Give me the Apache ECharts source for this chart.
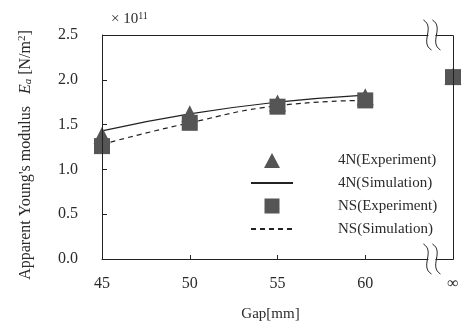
<!DOCTYPE html>
<html>
<head>
<meta charset="utf-8">
<script src="https://cdn.jsdelivr.net/npm/echarts@6/dist/echarts.min.js"></script>
<style>
  html, body { margin: 0; padding: 0; background: #fff; }
  #main { width: 462px; height: 336px; }
</style>
</head>
<body>
<div id="main"></div>
<script>
// gap in mm, 65 stands for the "∞" position
var gaps = [45, 50, 55, 60, 65];
var simGaps = [45, 50, 55, 60];

var exp4N = [1.38, 1.62, 1.74, 1.81, 2.04];
var sim4N = [1.43, 1.62, 1.75, 1.83];
var expNS = [1.26, 1.52, 1.70, 1.77, 2.03];
var simNS = [1.28, 1.52, 1.71, 1.77];

var xTicks = [45, 50, 55, 60];
var infLabel = '∞';
var breakAt = 63.8;

function pairs(xs, ys) {
    return ys.map(function (v, i) { return [xs[i], v]; });
}

var font = 'Liberation Serif';
var ink = '#2a2a2a';
var frameColor = '#222222';
var markColor = '#555555';

// legend icons: a zero-area stroke fixes the icon box, the shape sits in the middle
var triIcon = 'path://M0,0L42,16M13,16L21,1L29,16Z';
var rectIcon = 'path://M0,0L42,16M13.5,0.5L28.5,0.5L28.5,15.5L13.5,15.5Z';

var myChart = echarts.init(document.getElementById('main'));

var option = {
    backgroundColor: '#fff',
    animation: false,
    textStyle: { fontFamily: font, color: ink },
    grid: { left: 102, right: 9, top: 35, bottom: 77 },
    legend: {
        orient: 'vertical',
        left: 245,
        top: 147,
        itemWidth: 42,
        itemHeight: 16,
        itemGap: 7,
        textStyle: { fontFamily: font, fontSize: 15, color: ink, padding: [0, 0, 0, 40], lineHeight: 16 },
        data: [
            { name: '4N(Experiment)', icon: triIcon },
            { name: '4N(Simulation)', itemStyle: { opacity: 0 } },
            { name: 'NS(Experiment)', icon: rectIcon },
            { name: 'NS(Simulation)', itemStyle: { opacity: 0 } }
        ]
    },
    xAxis: {
        type: 'value',
        min: 45,
        max: 65,
        interval: 5,
        name: 'Gap[mm]',
        nameLocation: 'middle',
        nameGap: 48,
        nameTextStyle: { fontFamily: font, fontSize: 15, color: ink, padding: [0, 14, 0, 0] },
        axisLine: { lineStyle: { color: frameColor, width: 1 } },
        axisTick: { inside: true, length: 4, lineStyle: { color: frameColor } },
        splitLine: { show: false },
        axisLabel: {
            margin: 17,
            fontFamily: font,
            fontSize: 16,
            color: ink,
            formatter: function (v) {
                if (v === 65) return infLabel;
                return xTicks.indexOf(v) >= 0 ? String(v) : '';
            }
        }
    },
    yAxis: {
        type: 'value',
        min: 0,
        max: 2.5,
        interval: 0.5,
        name: "Apparent Young's modulus   {i|E}{sub|a} [N/m{sup|2}]",
        nameLocation: 'middle',
        nameRotate: 90,
        nameGap: 68,
        nameTextStyle: {
            fontFamily: font, fontSize: 16, color: ink, padding: [0, 16, 0, 0],
            rich: {
                i: { fontFamily: font, fontSize: 16, fontStyle: 'italic', color: ink },
                sub: { fontFamily: font, fontSize: 11, fontStyle: 'italic', color: ink, verticalAlign: 'bottom', padding: [6, 0, 0, 0] },
                sup: { fontFamily: font, fontSize: 11, color: ink, verticalAlign: 'top', padding: [0, 0, 6, 0] }
            }
        },
        axisLine: { show: true, lineStyle: { color: frameColor, width: 1 } },
        axisTick: { show: true, inside: true, length: 5, lineStyle: { color: frameColor } },
        splitLine: { show: false },
        axisLabel: {
            margin: 24,
            fontFamily: font,
            fontSize: 16,
            color: ink,
            formatter: function (v) { return v.toFixed(1); }
        }
    },
    series: [{
        name: '4N(Experiment)',
        type: 'scatter',
        symbol: 'triangle',
        symbolSize: 17,
        itemStyle: { color: markColor, opacity: 1 },
        z: 3,
        data: pairs(gaps, exp4N)
    }, {
        name: '4N(Simulation)',
        type: 'line',
        smooth: true,
        symbol: 'none',
        lineStyle: { color: '#222', width: 1.2, type: 'solid' },
        itemStyle: { color: '#222' },
        z: 2,
        data: pairs(simGaps, sim4N)
    }, {
        name: 'NS(Experiment)',
        type: 'scatter',
        symbol: 'rect',
        symbolSize: 16,
        itemStyle: { color: markColor, opacity: 1 },
        z: 4,
        data: pairs(gaps, expNS)
    }, {
        name: 'NS(Simulation)',
        type: 'line',
        smooth: true,
        symbol: 'none',
        lineStyle: { color: '#222', width: 1.2, type: [5, 4] },
        itemStyle: { color: '#222' },
        z: 2,
        data: pairs(simGaps, simNS)
    }]
};

myChart.setOption(option);

// plot frame, axis break glyphs and the ×10^11 multiplier
function breakGlyph(cx, cy) {
    var h = 15, w = 4, d = 9;
    function wave(x0) {
        return {
            type: 'bezierCurve',
            shape: { x1: x0 - w, y1: cy - h, x2: x0 + w, y2: cy + h, cpx1: x0 + w * 2, cpy1: cy - h / 2, cpx2: x0 - w * 2, cpy2: cy + h / 2 },
            style: { stroke: frameColor, lineWidth: 1, fill: null },
            z: 100
        };
    }
    return [{
        type: 'rect',
        shape: { x: cx - d / 2 + 1, y: cy - 3, width: d - 2, height: 6 },
        style: { fill: '#fff' },
        z: 99
    }, wave(cx - d / 2), wave(cx + d / 2)];
}

var rect = myChart.getModel().getComponent('grid', 0).coordinateSystem.getRect();
var breakTop = myChart.convertToPixel({ gridIndex: 0 }, [breakAt, 2.5]);
var breakBot = myChart.convertToPixel({ gridIndex: 0 }, [breakAt, 0]);

var frame = {
    type: 'rect',
    shape: {
        x: Math.round(rect.x) + 0.5,
        y: Math.round(rect.y) + 0.5,
        width: Math.round(rect.width),
        height: Math.round(rect.height)
    },
    style: { fill: 'rgba(0,0,0,0)', stroke: frameColor, lineWidth: 1 },
    silent: true,
    z: 50
};

myChart.setOption({
    graphic: [frame]
        .concat(breakGlyph(breakTop[0], breakTop[1]))
        .concat(breakGlyph(breakBot[0], breakBot[1]))
        .concat([{
            type: 'text',
            left: 111,
            top: 11,
            style: {
                text: '× 10{sup|11}',
                fontFamily: font,
                fontSize: 15,
                fill: ink,
                rich: { sup: { fontFamily: font, fontSize: 10, fill: ink, verticalAlign: 'top', padding: [0, 0, 6, 0] } }
            }
        }])
});
</script>
</body>
</html>
